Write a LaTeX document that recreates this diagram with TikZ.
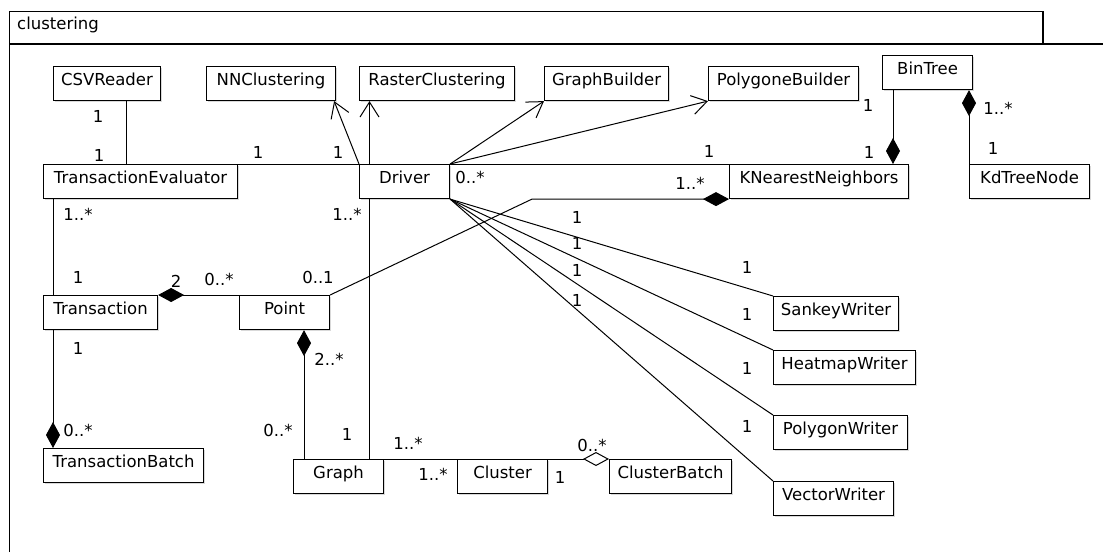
\documentclass[tikz,border=0pt]{standalone}
\usepackage{fontspec}
\setmainfont{DejaVu Sans}
\usetikzlibrary{arrows.meta,shadows}

\tikzset{
  cls/.style={draw, fill=white, line width=1.1pt, anchor=north west,
    minimum height=34pt, inner xsep=4pt, text height=12pt, text depth=7.5pt,
    drop shadow={shadow xshift=1.2pt, shadow yshift=-1.2pt, opacity=0.3}},
  mult/.style={inner sep=0pt},
  assoc/.style={line width=1pt},
  nav/.style={assoc, -{Straight Barb[length=15pt,width=19pt]}},
  comp/.style={assoc, -{Diamond[length=26pt,width=14pt]}},
  aggr/.style={assoc, -{Diamond[open,length=26pt,width=14pt,fill=white]}},
}

\begin{document}
\begin{tikzpicture}[x=1pt, y=-1pt,
    every node/.append style={font=\fontsize{16.5}{19}\selectfont}]
  \useasboundingbox (0,0) rectangle (1103,552);

  % package frame
  \draw[line width=1.1pt] (9.5,552) |- (1043,11.7) -- (1043,44);
  \draw[line width=1.1pt] (9.5,44) -- (1103,44);
  \node[anchor=base west, inner sep=0pt] (pkg) at (17,29) {clustering};

  % classes
  \node[cls, minimum width=107pt] (csv) at (53,66) {CSVReader};
  \node[cls, minimum width=129pt] (nnc) at (206,66) {NNClustering};
  \node[cls, minimum width=155pt] (rc) at (359,66) {RasterClustering};
  \node[cls, minimum width=124pt] (gb) at (544,66) {GraphBuilder};
  \node[cls, minimum width=150pt] (pb) at (708,66) {PolygoneBuilder};
  \node[cls, minimum width=90pt] (bt) at (882,55) {BinTree};
  \node[cls, minimum width=194pt] (te) at (43,164) {TransactionEvaluator};
  \node[cls, minimum width=90pt] (drv) at (359,164) {Driver};
  \node[cls, minimum width=179pt] (knn) at (729,164) {KNearestNeighbors};
  \node[cls, minimum width=120pt] (kd) at (969,164) {KdTreeNode};
  \node[cls, minimum width=114pt] (tr) at (43,295) {Transaction};
  \node[cls, minimum width=90pt] (pt) at (239,295) {Point};
  \node[cls, minimum width=125pt] (sw) at (773,296) {SankeyWriter};
  \node[cls, minimum width=142pt] (hw) at (773,350) {HeatmapWriter};
  \node[cls, minimum width=134pt] (pw) at (773,415) {PolygonWriter};
  \node[cls, minimum width=120pt] (vw) at (773,481) {VectorWriter};
  \node[cls, minimum width=160pt] (tb) at (43,448) {TransactionBatch};
  \node[cls, minimum width=90pt] (gr) at (293,459) {Graph};
  \node[cls, minimum width=90pt] (cl) at (457,459) {Cluster};
  \node[cls, minimum width=122pt] (cb) at (609,459) {ClusterBatch};

  % associations
  \draw[assoc] ([xshift=19.5pt]csv.south) -- ([xshift=19.5pt]csv.south |- te.north);
  \draw[assoc] (te.north east) -- (drv.north west);
  \draw[assoc] (drv.north east) -- (knn.north west);
  \draw[nav] (drv.north west) -- ([xshift=-2pt]nnc.south east);
  \draw[nav] ([xshift=10.5pt]drv.north west) -- ([xshift=10.5pt]drv.north west |- rc.south);
  \draw[nav] (drv.north east) -- (gb.south west);
  \draw[nav] (drv.north east) -- (pb.south west);
  \draw[comp] (pt.north east) -- ([xshift=-197pt]knn.south west) -- (knn.south west);
  \draw[comp] ([xshift=11pt]bt.south west) -- ([xshift=11pt]bt.south west |- knn.north);
  \draw[comp] (kd.north west) -- (kd.north west |- bt.south);
  \draw[assoc] ([xshift=10pt]te.south west) -- ([xshift=10pt]te.south west |- tr.north);
  \draw[comp] (pt.north west) -- (tr.north east);
  \draw[comp] ([xshift=10pt]tr.south west) -- ([xshift=10pt]tr.south west |- tb.north);
  \draw[comp] ([xshift=11pt]gr.north west) -- ([xshift=11pt]gr.north west |- pt.south);
  \draw[assoc] ([xshift=10.5pt]drv.south west) -- ([xshift=10.5pt]drv.south west |- gr.north);
  \draw[assoc] (gr.north east) -- (cl.north west);
  \draw[aggr] (cl.north east) -- (cb.north west);
  \foreach \w in {sw,hw,pw,vw}
    \draw[assoc] (drv.south east) -- (\w.north west);

  % multiplicities
  \foreach \x/\y/\lbl [count=\i] in {98/116/1, 99/155/1, 258/152/1, 338/152/1,
      470/177/0..*, 709/151/1, 690/183/1..*, 318/277/0..1, 868/105/1, 869/152/1,
      998/108/1..*, 993/148/1, 78/214/1..*, 78/277/1, 176/281/2, 219/279/0..*,
      78/348/1, 78/430/0..*, 329/359/2..*, 278/430/0..*, 347/214/1..*, 347/434/1,
      408/443/1..*, 433/474/1..*, 560/477/1, 592/445/0..*,
      577/217/1, 577/243/1, 577/270/1, 577/300/1,
      747/267/1, 747/314/1, 747/368/1, 747/426/1}
    \node[mult] (m\i) at (\x,\y) {\lbl};
\end{tikzpicture}
\end{document}
